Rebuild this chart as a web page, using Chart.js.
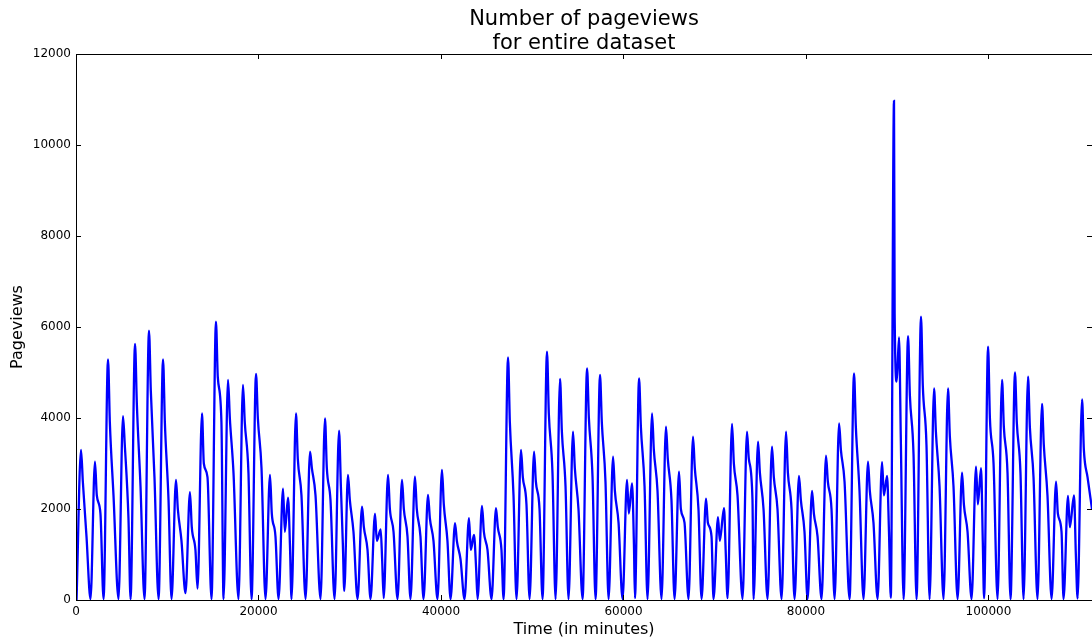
<!DOCTYPE html>
<html>
<head>
<meta charset="utf-8">
<script src="https://cdn.jsdelivr.net/npm/chart.js@4.4.1/dist/chart.umd.min.js"></script>
<style>
  html, body { margin: 0; padding: 0; background: #fff; }
  #wrap { width: 1092px; height: 643px; }
</style>
</head>
<body>
<div id="wrap"><canvas id="myChart"></canvas></div>
<script>
/* globals Chart:false */

// Time (in minutes)
const minutes = [
  60, 550, 750, 1150,
  1590, 2080, 2280, 2680,
  3020, 3510, 3710, 4110,
  4660, 5150, 5350, 5750,
  5980, 6470, 6670, 7070,
  7510, 8000, 8200, 8600,
  9050, 9540, 9740, 10140,
  10470, 10960, 11160, 11560,
  12000, 12490, 12690, 13090,
  13320, 13810, 14010, 14410,
  14850, 15340, 15540, 15940,
  16170, 16660, 16860, 17260,
  17810, 18300, 18500, 18900,
  19240, 19730, 19930, 20330,
  20770, 21260, 21460, 21860,
  22200, 22690, 22890, 23240, 23450,
  23620, 24110, 24310, 24710,
  25160, 25650, 25850, 26250,
  26800, 27290, 27490, 27890,
  28340, 28830, 29030, 29250,
  29400, 29810, 30010, 30410,
  30860, 31350, 31550, 31950,
  32280, 32770, 32970, 33390, 33550,
  33720, 34200, 34400, 34800,
  35240, 35730, 35930, 36330,
  36660, 37150, 37350, 37750,
  38090, 38580, 38780, 39180,
  39620, 40110, 40310, 40710,
  41050, 41540, 41740, 42140,
  42580, 43070, 43270, 43620, 43850,
  44010, 44500, 44700, 45100,
  45540, 46030, 46230, 46630,
  46860, 47350, 47550, 47950,
  48280, 48770, 48970, 49370,
  49710, 50200, 50400, 50800,
  51130, 51620, 51820, 52220,
  52560, 53050, 53250, 53650,
  53980, 54470, 54670, 55070,
  55520, 56010, 56210, 56610,
  56940, 57430, 57630, 58030,
  58370, 58860, 59060, 59460,
  59900, 60390, 60590, 60940, 61150,
  61260, 61710, 61910, 62310,
  62640, 63130, 63330, 63730,
  64170, 64660, 64860, 65260,
  65600, 66090, 66290, 66690,
  67130, 67620, 67820, 68220,
  68560, 69050, 69250, 69650,
  69870, 70360, 70560, 71020, 71200,
  71410, 71900, 72100, 72500,
  73050, 73540, 73740, 74140,
  74260, 74750, 74950, 75350,
  75790, 76280, 76480, 76880,
  77330, 77820, 78020, 78420,
  78750, 79240, 79440, 79840,
  80180, 80670, 80870, 81270,
  81710, 82200, 82400, 82800,
  83140, 83630, 83830, 84230,
  84780, 85270, 85470, 85870,
  86310, 86800, 87000, 87400,
  87850, 88340, 88540, 88890, 89100,
  89300, 89650, 89720, 89950, 90200, 90400,
  90700, 91190, 91390, 91790,
  92120, 92610, 92810, 93210,
  93550, 94040, 94240, 94640,
  95080, 95570, 95770, 96170,
  96620, 97110, 97310, 97710,
  98150, 98640, 98840, 99190, 99380,
  99520, 99960, 100160, 100560,
  101000, 101490, 101690, 102090,
  102420, 102910, 103110, 103510,
  103850, 104340, 104540, 104940,
  105380, 105870, 106070, 106470,
  106920, 107410, 107610, 108010,
  108230, 108720, 108920, 109380, 109580,
  109770, 110260, 110460, 110860, 111350
]

const pageviews = [
  0, 3300, 2600, 1400,
  20, 3040, 2300, 1900,
  20, 5290, 3900, 2300,
  20, 4040, 3400, 1800,
  20, 5630, 4300, 2500,
  20, 5920, 4600, 2700,
  20, 5290, 3900, 2200,
  20, 2640, 2000, 1300,
  150, 2370, 1600, 1100,
  250, 4100, 3000, 2700,
  20, 6120, 4900, 3900,
  20, 4840, 4000, 2800,
  20, 4730, 3900, 2800,
  20, 4970, 4000, 2900,
  20, 2750, 1900, 1400,
  20, 2450, 1500, 2250, 1200,
  20, 4100, 3100, 2300,
  20, 3260, 2900, 2300,
  20, 3990, 2900, 2200,
  20, 3720, 2500, 1200,
  200, 2750, 2200, 1500,
  20, 2050, 1600, 1100,
  20, 1900, 1300, 1550, 900,
  40, 2750, 2000, 1500,
  20, 2640, 2000, 1400,
  20, 2710, 2000, 1400,
  20, 2310, 1800, 1300,
  20, 2860, 2100, 1300,
  20, 1690, 1300, 900,
  20, 1800, 1100, 1430, 700,
  20, 2070, 1500, 1100,
  20, 2020, 1600, 1100,
  20, 5330, 3900, 2300,
  20, 3300, 2700, 2100,
  20, 3260, 2600, 2000,
  20, 5460, 4100, 2800,
  20, 4860, 3700, 2500,
  20, 3700, 2900, 2000,
  20, 5090, 4000, 2700,
  20, 4950, 3900, 2600,
  20, 3150, 2400, 1700,
  20, 2640, 1900, 2560, 1200,
  40, 4870, 3800, 2500,
  20, 4100, 3300, 2400,
  20, 3810, 3100, 2200,
  20, 2820, 2000, 1700,
  20, 3590, 2900, 2000,
  20, 2230, 1700, 1400,
  20, 1820, 1300, 2020, 1100,
  40, 3870, 3000, 2300,
  20, 3700, 3100, 2200,
  20, 3480, 2800, 2000,
  20, 3370, 2700, 2000,
  20, 3700, 2800, 2000,
  20, 2730, 2200, 1500,
  20, 2400, 1900, 1400,
  20, 3170, 2600, 2000,
  20, 3880, 3300, 2600,
  20, 4980, 3800, 2400,
  20, 3040, 2400, 1700,
  20, 3030, 2300, 2730, 1500,
  50, 10970, 6300, 4800, 5770, 3500,
  20, 5800, 4500, 3200,
  20, 6230, 4700, 3400,
  20, 4650, 3700, 2500,
  20, 4650, 3600, 2500,
  20, 2800, 2100, 1500,
  20, 2930, 2100, 2900, 1300,
  40, 5570, 4000, 3000,
  20, 4840, 3800, 2800,
  20, 5000, 3900, 2800,
  20, 4910, 3800, 2700,
  20, 4310, 3400, 2300,
  20, 2600, 1900, 1500,
  20, 2290, 1600, 2300, 1000,
  30, 4410, 3300, 2700, 2000
]

const xTicks = [0, 20000, 40000, 60000, 80000, 100000]
const yTicks = [0, 2000, 4000, 6000, 8000, 10000, 12000]
const titleLines = ['Number of pageviews', 'for entire dataset']

const FONT = '"DejaVu Sans", "Liberation Sans", sans-serif'

// spines, inward ticks and the two-line title (centred on the axes like matplotlib)
const frame = {
  id: 'frame',
  afterDraw(chart) {
    const { ctx, chartArea: a, scales: { x, y } } = chart
    ctx.save()
    ctx.strokeStyle = '#000'
    ctx.lineWidth = 1
    ctx.strokeRect(a.left + 0.5, a.top + 0.5, a.right - a.left, a.bottom - a.top)
    ctx.beginPath()
    xTicks.forEach(v => {
      const px = Math.round(x.getPixelForValue(v)) + 0.5
      ctx.moveTo(px, a.bottom); ctx.lineTo(px, a.bottom - 5)
      ctx.moveTo(px, a.top); ctx.lineTo(px, a.top + 5)
    })
    yTicks.forEach(v => {
      const py = Math.round(y.getPixelForValue(v)) + 0.5
      ctx.moveTo(a.left, py); ctx.lineTo(a.left + 5, py)
      ctx.moveTo(a.right, py); ctx.lineTo(a.right - 5, py)
    })
    ctx.stroke()
    ctx.fillStyle = '#000'
    ctx.font = '21px ' + FONT
    ctx.textAlign = 'center'
    ctx.textBaseline = 'alphabetic'
    const cx = (a.left + a.right) / 2
    ctx.fillText(titleLines[0], cx, 25)
    ctx.fillText(titleLines[1], cx, 49)
    ctx.restore()
  }
}

const ctx = document.getElementById('myChart')
// eslint-disable-next-line no-unused-vars
const myChart = new Chart(ctx, {
  type: 'line',
  data: {
    datasets: [{
      data: minutes.map((m, i) => ({ x: m, y: pageviews[i] })),
      borderColor: '#0000ff',
      borderWidth: 2.3,
      pointRadius: 0,
      cubicInterpolationMode: 'monotone',
      fill: false
    }]
  },
  options: {
    responsive: true,
    maintainAspectRatio: false,
    animation: false,
    devicePixelRatio: 1,
    layout: { padding: { top: 54, right: 0, left: 0, bottom: 0 } },
    plugins: {
      legend: { display: false },
      tooltip: { enabled: false },
      title: { display: false }
    },
    scales: {
      x: {
        type: 'linear',
        min: 0,
        max: 111350,
        grid: { display: false, drawTicks: false },
        border: { display: false },
        afterBuildTicks: s => { s.ticks = xTicks.map(v => ({ value: v })) },
        afterFit: s => { s.height = 43 },
        ticks: {
          color: '#000',
          padding: 5,
          maxRotation: 0,
          font: { family: FONT, size: 12 },
          callback: v => String(v)
        },
        title: {
          display: true,
          text: 'Time (in minutes)',
          color: '#000',
          font: { family: FONT, size: 16 },
          padding: { top: 0, bottom: 4 }
        }
      },
      y: {
        min: 0,
        max: 12000,
        grid: { display: false, drawTicks: false },
        border: { display: false },
        afterBuildTicks: s => { s.ticks = yTicks.map(v => ({ value: v })) },
        afterFit: s => { s.width = 76 },
        ticks: {
          color: '#000',
          padding: 5,
          font: { family: FONT, size: 12 },
          callback: v => String(v)
        },
        title: {
          display: true,
          text: 'Pageviews',
          color: '#000',
          font: { family: FONT, size: 16 },
          padding: { top: 8, bottom: 0 }
        }
      }
    }
  },
  plugins: [frame]
})
</script>
</body>
</html>
